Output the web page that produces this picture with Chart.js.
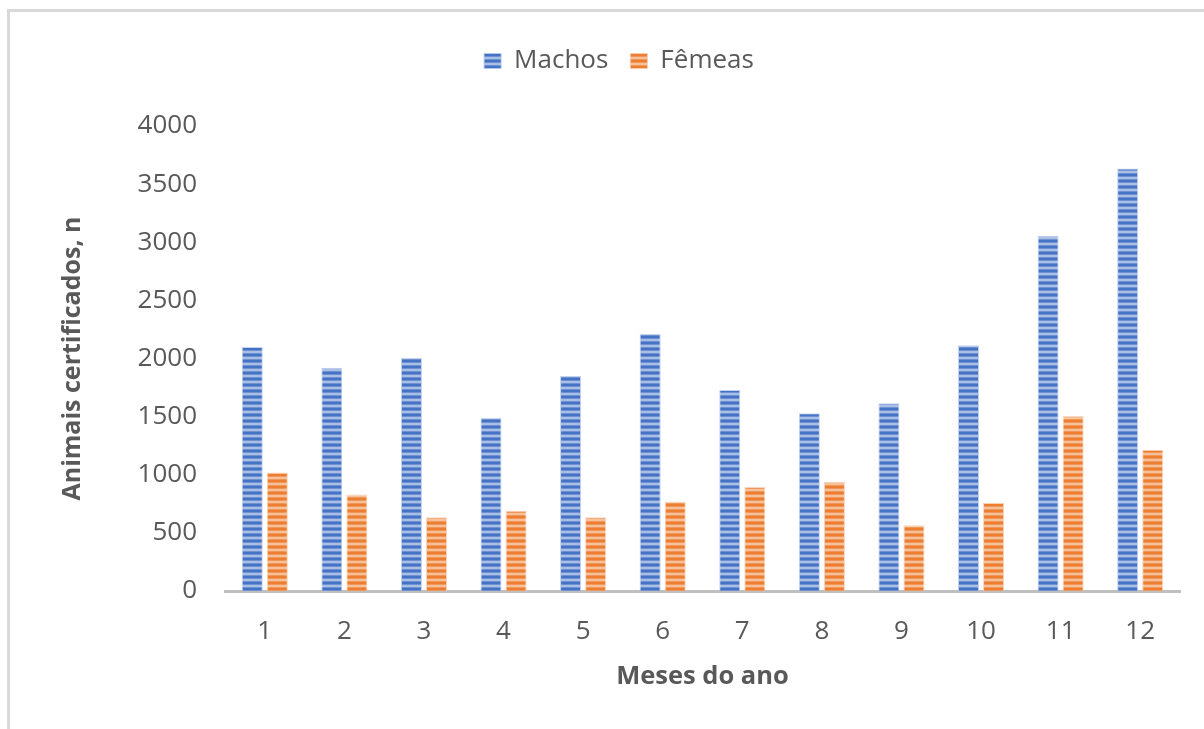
<!DOCTYPE html>
<html>
<head>
<meta charset="utf-8">
<script src="https://cdn.jsdelivr.net/npm/chart.js@4/dist/chart.umd.min.js"></script>
<style>
  html, body { margin: 0; padding: 0; background: #fff; }
  #wrap { position: relative; width: 1204px; height: 729px; overflow: hidden; }
  #frame { position: absolute; left: 7px; top: 9px; right: -10px; bottom: -10px;
           border-left: 3px solid #d9d9d9; border-top: 3px solid #d9d9d9; }
  canvas { position: absolute; left: 0; top: 0; }
</style>
</head>
<body>
<div id="wrap">
  <div id="frame"></div>
  <canvas id="c" width="1204" height="729"></canvas>
</div>
<script>
// Months of the year
const months = ['1', '2', '3', '4', '5', '6', '7', '8', '9', '10', '11', '12'];
// Certified animals per month
const machos = [2100, 1920, 2005, 1490, 1850, 2210, 1730, 1530, 1615, 2115, 3055, 3635];
const femeas = [1020, 830, 635, 690, 635, 770, 895, 940, 565, 760, 1505, 1215];
// Value axis
const yMin = 0;
const yMax = 4000;
const yStep = 500;

// Horizontal striped fills for the bars
function stripes(rows) {
  const c = document.createElement('canvas');
  c.width = 4; c.height = rows.length;
  const x = c.getContext('2d');
  rows.forEach((col, i) => { x.fillStyle = col; x.fillRect(0, i, 4, 1); });
  return x.createPattern(c, 'repeat');
}
const bluePattern = stripes(['#4472c4', '#4472c4', '#6f91d2', '#a9bfe6', '#a9bfe6', '#6f91d2']);
const orangePattern = stripes(['#ed7d31', '#ed7d31', '#f0975a', '#f6c19b', '#f6c19b', '#f0975a']);

const FONT = "'Open Sans', 'Liberation Sans', sans-serif";
const TXT = '#595959';

// Extra room under the legend so the plot starts lower
const legendGap = {
  id: 'legendGap',
  beforeLayout(chart) {
    const lg = chart.legend;
    if (lg && !lg._gapPatched) {
      const fit = lg.fit.bind(lg);
      lg.fit = function () { fit(); this.height += 42; };
      lg._gapPatched = true;
    }
  }
};

new Chart(document.getElementById('c'), {
  type: 'bar',
  data: {
    labels: months,
    datasets: [
      { label: 'Machos', data: machos, backgroundColor: bluePattern,
        borderColor: 'rgba(180,199,231,0.8)', borderWidth: 1,
        categoryPercentage: 0.63, barPercentage: 0.84 },
      { label: 'Fêmeas', data: femeas, backgroundColor: orangePattern,
        borderColor: 'rgba(248,203,173,0.8)', borderWidth: 1,
        categoryPercentage: 0.63, barPercentage: 0.84 }
    ]
  },
  plugins: [legendGap],
  options: {
    responsive: false,
    animation: false,
    layout: { padding: { top: 26, left: 58, right: 24, bottom: 37 } },
    plugins: {
      tooltip: { enabled: false },
      legend: {
        position: 'top',
        labels: {
          color: TXT,
          font: { family: FONT, size: 26 },
          boxWidth: 17, boxHeight: 15, padding: 22
        }
      }
    },
    scales: {
      x: {
        grid: { display: false, drawTicks: false },
        border: { display: true, color: '#bfbfbf', width: 3 },
        ticks: { color: TXT, font: { family: FONT, size: 26 }, padding: 25, maxRotation: 0 },
        title: { display: true, text: 'Meses do ano', color: TXT,
                 font: { family: FONT, size: 25.5, weight: 'bold' }, padding: 0 },
        afterFit: (s) => { s.height = 729 - 591 - 37; }
      },
      y: {
        min: yMin, max: yMax,
        grid: { display: false, drawTicks: false },
        border: { display: false },
        ticks: { stepSize: yStep, color: TXT, font: { family: FONT, size: 26 }, padding: 28,
                 callback: (v) => String(v) },
        title: { display: true, text: 'Animais certificados, n', color: TXT,
                 font: { family: FONT, size: 25, weight: 'bold' }, padding: 0 },
        afterFit: (s) => { s.width = 225 - 58; }
      }
    }
  }
});
</script>
</body>
</html>
